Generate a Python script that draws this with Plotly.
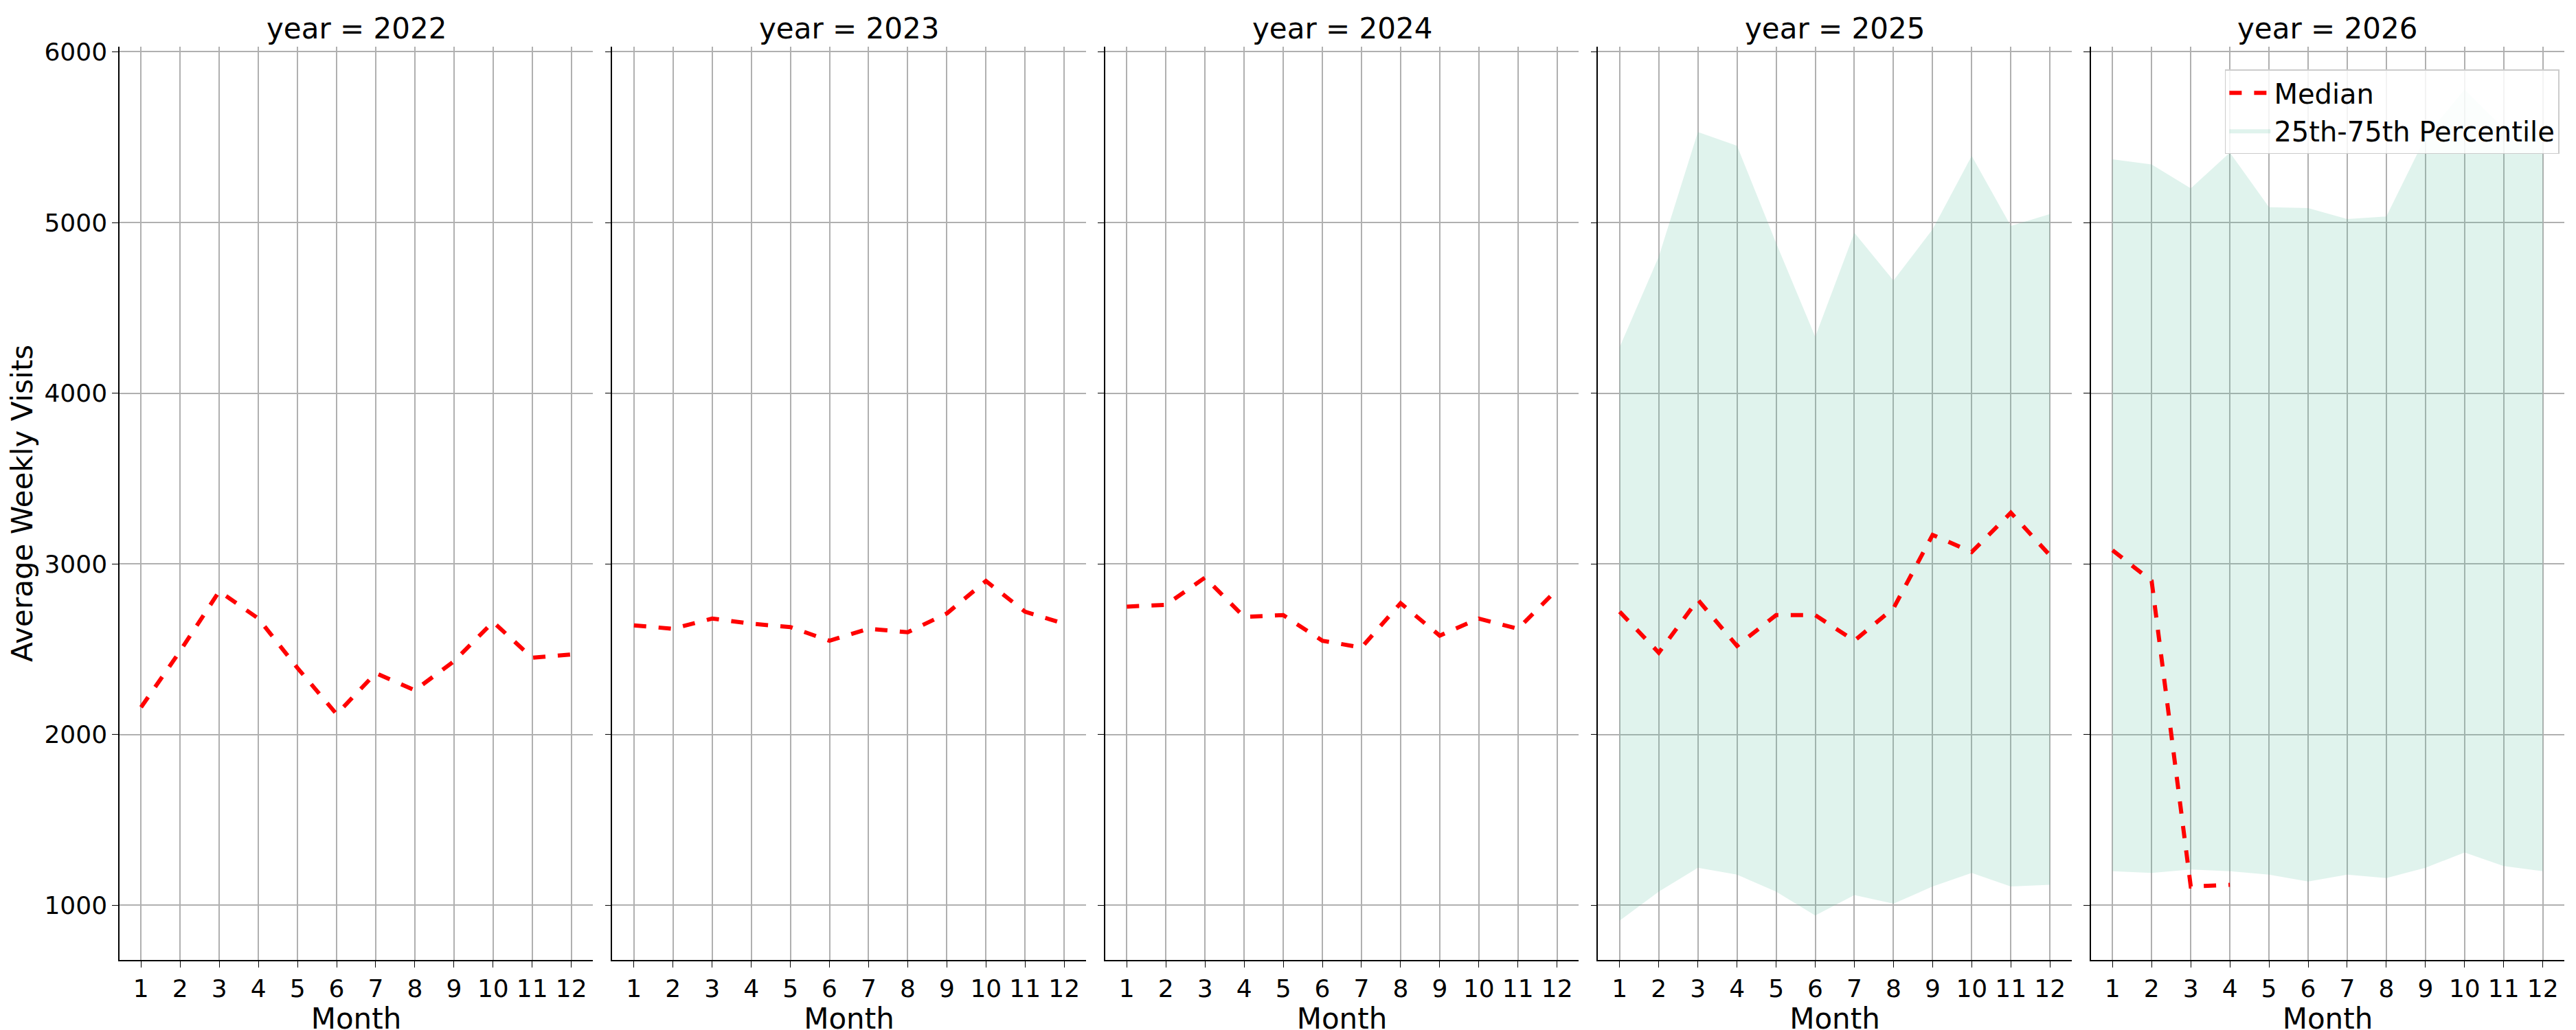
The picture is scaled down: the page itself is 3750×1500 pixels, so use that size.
import plotly.graph_objects as go
from plotly.subplots import make_subplots

years = [2022, 2023, 2024, 2025, 2026]
months = list(range(1, 13))

median = {
    2022: [2160, 2490, 2840, 2680, 2390, 2120, 2360, 2260, 2430, 2660, 2450, 2470],
    2023: [2640, 2620, 2680, 2650, 2630, 2550, 2620, 2600, 2710, 2900, 2720, 2650],
    2024: [2750, 2760, 2920, 2690, 2700, 2550, 2510, 2770, 2580, 2680, 2620, 2850],
    2025: [2720, 2480, 2790, 2520, 2700, 2700, 2550, 2740, 3170, 3070, 3300, 3050],
    2026: [3080, 2900, 1110, 1120],
}
p25 = {
    2025: [910, 1080, 1220, 1180, 1080, 940, 1060, 1010, 1110, 1190, 1110, 1120],
    2026: [1200, 1190, 1210, 1200, 1180, 1140, 1180, 1160, 1220, 1310, 1230, 1200],
}
p75 = {
    2025: [4270, 4800, 5530, 5450, 4880, 4330, 4940, 4660, 4960, 5390, 4980, 5050],
    2026: [5370, 5340, 5200, 5410, 5090, 5085, 5020, 5035, 5500, 5780, 5550, 5500],
}

fig = make_subplots(rows=1, cols=5, shared_yaxes=True, horizontal_spacing=0.008,
                    subplot_titles=[f"year = {y}" for y in years])

band_color = "rgba(102,194,165,0.2)"
for i, y in enumerate(years, start=1):
    if y in p25:
        fig.add_trace(go.Scatter(x=months, y=p25[y], mode="lines", line=dict(width=0),
                                 showlegend=False, hoverinfo="skip"), row=1, col=i)
        fig.add_trace(go.Scatter(x=months, y=p75[y], mode="lines", line=dict(width=0),
                                 fill="tonexty", fillcolor=band_color,
                                 name="25th-75th Percentile", legendrank=2,
                                 showlegend=(y == 2026)), row=1, col=i)
    fig.add_trace(go.Scatter(x=months[:len(median[y])], y=median[y], mode="lines",
                             line=dict(color="red", width=6, dash="dash"),
                             name="Median", legendrank=1,
                             showlegend=(y == 2026)), row=1, col=i)

axis_style = dict(showgrid=True, gridcolor="#b0b0b0", gridwidth=1.5,
                  showline=True, linecolor="black", linewidth=1.5,
                  ticks="outside", ticklen=9, tickcolor="black",
                  tickfont=dict(size=36), zeroline=False)
fig.update_xaxes(**axis_style, tickvals=months, range=[0.45, 12.55],
                 title_text="Month", title_font=dict(size=42), title_standoff=4)
fig.update_yaxes(**axis_style, range=[680, 6030], tickvals=[1000, 2000, 3000, 4000, 5000, 6000])
fig.update_yaxes(title_text="Average Weekly Visits", title_font=dict(size=42), row=1, col=1)

fig.update_annotations(font=dict(size=42))
fig.update_layout(
    width=3750, height=1500,
    plot_bgcolor="white", paper_bgcolor="white",
    font=dict(family="DejaVu Sans", color="black"),
    margin=dict(l=150, r=25, t=60, b=110),
    legend=dict(x=0.998, y=0.975, xanchor="right", yanchor="top",
                bgcolor="rgba(255,255,255,0.85)", bordercolor="#cccccc", borderwidth=1.5,
                font=dict(size=40), traceorder="normal", itemwidth=60),
)

fig.write_html("out.html")
